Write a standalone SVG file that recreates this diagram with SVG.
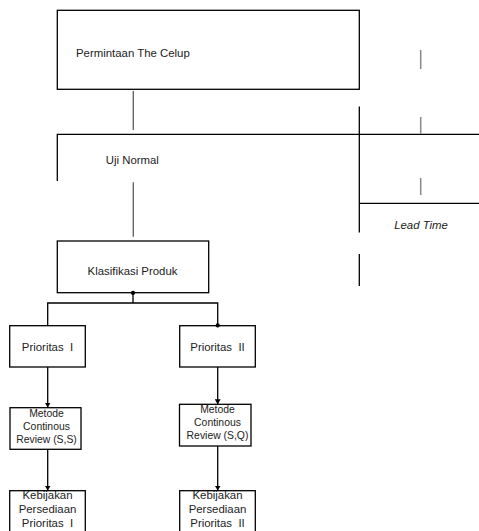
<svg xmlns="http://www.w3.org/2000/svg" width="479" height="531" viewBox="0 0 479 531">
<style>
.box{fill:#fff;stroke:#000;stroke-width:1.3}
.ln{fill:none;stroke:#000;stroke-width:1.3}
.gl{fill:none;stroke:#666;stroke-width:1.4}
.tk{fill:none;stroke:#888;stroke-width:1.5}
.t{font-family:"Liberation Sans",Arial,sans-serif;font-size:11.4px;fill:#222}
.s{font-family:"Liberation Sans",Arial,sans-serif;font-size:10.4px;fill:#222;text-anchor:middle}
.m{text-anchor:middle}
.i{font-style:italic}
</style>
<defs>
<marker id="ah" markerWidth="6" markerHeight="6" refX="5" refY="3" orient="auto" markerUnits="userSpaceOnUse">
<path d="M0,0 L5,3 L0,6 Z" fill="#000"/>
</marker>
</defs>
<rect width="479" height="531" fill="#fff"/>

<g id="permintaan">
<rect class="box" x="57.3" y="10.3" width="302" height="79"/>
<text class="t" x="76" y="56.5">Permintaan The Celup</text>
</g>

<g id="uji-normal">
<path class="ln" d="M57.3,181 V134.3 H479"/>
<text class="t m" x="132.3" y="163.5">Uji Normal</text>
</g>

<g id="lead-time">
<path class="ln" d="M359.3,106.5 V232.5 M359.3,254 V286 M359.3,203.3 H479"/>
<path class="tk" d="M420.7,50 V69 M420.7,117 V134 M420.7,178 V195"/>
<text class="t m i" x="421" y="229">Lead Time</text>
</g>

<g id="klasifikasi">
<rect class="box" x="57.3" y="241" width="151.4" height="51.7"/>
<text class="t m" x="132.5" y="275">Klasifikasi Produk</text>
</g>

<g id="prioritas1">
<rect class="box" x="9.7" y="325.7" width="75.6" height="41.3"/>
<text class="t m" x="47.5" y="351" xml:space="preserve">Prioritas  I</text>
</g>

<g id="prioritas2">
<rect class="box" x="179.7" y="325.7" width="75.6" height="41.3"/>
<text class="t m" x="217.5" y="351" xml:space="preserve">Prioritas  II</text>
</g>

<g id="metode1">
<rect class="box" x="10" y="407.7" width="71" height="41.6"/>
<text class="s"><tspan x="46.5" y="416.8">Metode</tspan><tspan x="46.5" y="429.8">Continous</tspan><tspan x="46.5" y="442.8">Review (S,S)</tspan></text>
</g>

<g id="metode2">
<rect class="box" x="179.5" y="404.3" width="71.5" height="41.7"/>
<text class="s"><tspan x="217.5" y="412.8">Metode</tspan><tspan x="217.5" y="425.5">Continous</tspan><tspan x="217.5" y="438.6">Review (S,Q)</tspan></text>
</g>

<g id="kebijakan1">
<rect class="box" x="9.7" y="490.7" width="75.6" height="60"/>
<text class="t m"><tspan x="47.5" y="499">Kebijakan</tspan><tspan x="47.5" y="513.3">Persediaan</tspan><tspan x="47.5" y="527" xml:space="preserve">Prioritas  I</tspan></text>
</g>

<g id="kebijakan2">
<rect class="box" x="179.7" y="490.7" width="75.6" height="60"/>
<text class="t m"><tspan x="217.5" y="499">Kebijakan</tspan><tspan x="217.5" y="513.3">Persediaan</tspan><tspan x="217.5" y="527" xml:space="preserve">Prioritas  II</tspan></text>
</g>

<g id="connectors">
<path class="gl" d="M133.3,91 V130"/>
<path class="gl" d="M133.3,182.3 V236.7"/>
<path class="ln" d="M133,292.7 V303 M47.7,325.7 V303 H217.7 V325.7"/>
<circle cx="133" cy="292.9" r="2.1" fill="#000"/>
<circle cx="217.7" cy="325.4" r="2.1" fill="#000"/>
<path class="ln" d="M47.7,367 V407.5" marker-end="url(#ah)"/>
<path class="ln" d="M217.7,367 V404.2" marker-end="url(#ah)"/>
<path class="ln" d="M47.7,449.3 V490.6" marker-end="url(#ah)"/>
<path class="ln" d="M217.7,446 V490.6" marker-end="url(#ah)"/>
</g>
</svg>
